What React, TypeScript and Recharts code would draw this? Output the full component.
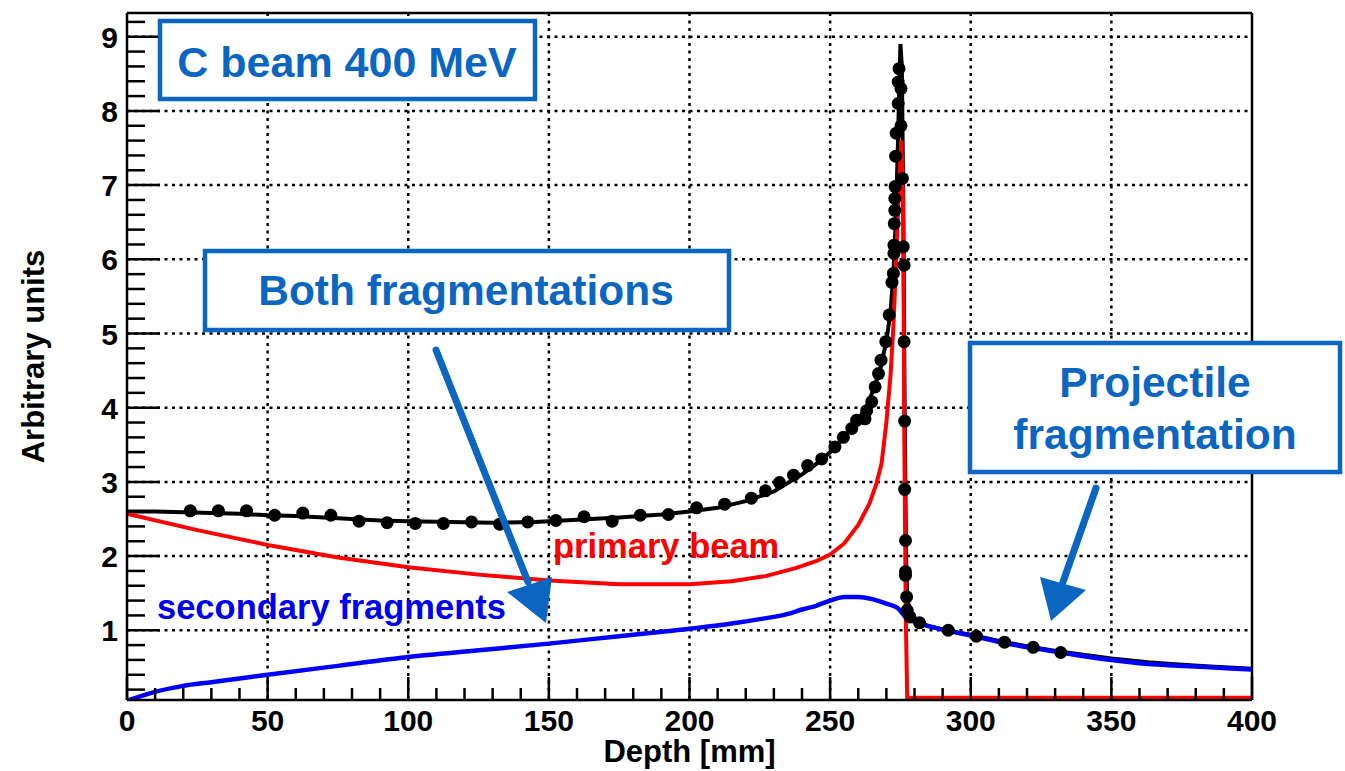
import { ComposedChart, Line, Scatter, XAxis, YAxis, CartesianGrid, ReferenceLine } from 'recharts'

// depth [mm], arbitrary units
const TOTAL_DOSE: [number, number][] = [
  [0, 2.6], [10, 2.6], [20, 2.59], [30, 2.58], [40, 2.57], [50, 2.55], [60, 2.54], [75, 2.51],
  [90, 2.48], [100, 2.47], [115, 2.46], [130, 2.45], [145, 2.46], [160, 2.49], [175, 2.52],
  [190, 2.56], [200, 2.6], [210, 2.65], [220, 2.74], [230, 2.87], [240, 3.1], [245, 3.24],
  [250, 3.4], [255, 3.6], [260, 3.84], [263, 4.02], [266, 4.3], [268, 4.55], [270, 4.9],
  [271.5, 5.3], [272.5, 5.8], [273.3, 6.5], [274, 7.4], [274.5, 8.2], [275, 8.9], [275.5, 8.6],
  [276, 6.8], [276.5, 4.0], [277, 2.0], [277.4, 1.45], [278.5, 1.2], [280, 1.12], [285, 1.06],
  [292, 0.99], [300, 0.94], [312, 0.84], [322, 0.77], [332, 0.71], [350, 0.62], [363, 0.57],
  [370, 0.55], [385, 0.51], [400, 0.48],
]

const PRIMARY: [number, number][] = [
  [0, 2.57], [25, 2.35], [50, 2.15], [75, 1.98], [100, 1.85], [125, 1.75], [150, 1.67],
  [175, 1.62], [200, 1.62], [215, 1.66], [227, 1.73], [238, 1.84], [245, 1.93], [250, 2.02],
  [255, 2.17], [260, 2.42], [264, 2.71], [266.5, 2.98], [268.3, 3.25], [270, 3.8], [271.5, 4.45],
  [272.5, 5.1], [273.6, 6.1], [274.5, 7.0], [275.3, 7.6], [275.7, 7.2], [276, 6.5], [276.4, 3.5],
  [276.9, 1.2], [277.4, 0.09], [300, 0.09], [400, 0.09],
]

const SECONDARY: [number, number][] = [
  [0, 0.05], [10, 0.17], [20, 0.25], [30, 0.3], [40, 0.35], [50, 0.4], [75, 0.52], [100, 0.64],
  [125, 0.73], [150, 0.82], [175, 0.92], [200, 1.02], [215, 1.09], [225, 1.15], [235, 1.22],
  [240, 1.28], [245, 1.33], [250, 1.4], [255, 1.45], [260, 1.45], [265, 1.42], [270, 1.36],
  [274, 1.3], [277, 1.17], [282, 1.09], [290, 1.01], [300, 0.93], [313, 0.82], [322, 0.76],
  [332, 0.7], [342, 0.64], [350, 0.6], [362, 0.55], [370, 0.53], [385, 0.5], [400, 0.47],
]

const MEASURED: [number, number][] = [
  [22.5, 2.61], [32.5, 2.61], [42.5, 2.61], [52.5, 2.55], [62.5, 2.58], [72.5, 2.55], [82.5, 2.47],
  [92.5, 2.45], [102.5, 2.44], [112.5, 2.44], [122.5, 2.46], [132.5, 2.43], [142.5, 2.46],
  [152.5, 2.48], [162.5, 2.53], [172.5, 2.47], [182.5, 2.55], [192.5, 2.56], [202.5, 2.65],
  [212.5, 2.7], [222, 2.78], [227, 2.88], [232, 2.99], [237, 3.09], [242, 3.22], [247, 3.31],
  [251.7, 3.47], [254.7, 3.6], [257.7, 3.72], [259.4, 3.83], [262.4, 3.85], [263, 3.96],
  [264.8, 4.08], [266, 4.28], [267.2, 4.46], [268.1, 4.64], [269.8, 4.89], [271, 5.25],
  [272, 5.69], [272.5, 5.81], [272.7, 6.08], [272.7, 6.19], [272.8, 6.48], [273, 6.66],
  [273, 6.82], [273.1, 6.98], [273.3, 7.39], [273.5, 7.7], [274.2, 8.1], [274.2, 8.39],
  [274.5, 8.57], [275.2, 8.3], [275.2, 7.8], [275.7, 7.09], [276, 6.17], [276.3, 5.92],
  [276.3, 4.89], [276.5, 3.82], [276.5, 2.9], [276.8, 2.21], [276.8, 1.79], [276.8, 1.74],
  [277.2, 1.45], [277.4, 1.27], [278.4, 1.18], [281.8, 1.1], [292, 1.0], [302, 0.92],
  [312, 0.84], [322.2, 0.77], [332, 0.7],
]

const X_MAJOR = [0, 50, 100, 150, 200, 250, 300, 350, 400]
const X_TICKS = Array.from({ length: 41 }, (_, i) => i * 10)
const Y_MAJOR = [1, 2, 3, 4, 5, 6, 7, 8, 9]
const Y_TICKS = Array.from({ length: 46 }, (_, i) => Math.round((i + 1) * 2) / 10)
const Y_MIN = 0.06
const Y_MAX = 9.32

const W = 1345
const H = 771
const LEFT = 127
const RIGHT = 1252
const TOP = 13
const BOTTOM = 700

const FONT = '"Liberation Sans", Arial, Helvetica, sans-serif'
const BOX_BLUE = '#0b66c1'

const toRows = (pts: [number, number][]) => pts.map(([d, v]) => ({ d, v }))

function XTick({ x, payload }: any) {
  const v = payload.value as number
  const major = v % 50 === 0
  return (
    <g>
      <line x1={x} x2={x} y1={BOTTOM} y2={BOTTOM - (major ? 23 : 12)} stroke="#000" strokeWidth={2.5} />
      {major && (
        <text x={x} y={731} textAnchor="middle" fontFamily={FONT} fontWeight="bold" fontSize={30} fill="#000">
          {v}
        </text>
      )}
    </g>
  )
}

function YTick({ y, payload }: any) {
  const v = payload.value as number
  const major = Math.abs(v - Math.round(v)) < 1e-6
  return (
    <g>
      <line x1={LEFT} x2={LEFT + (major ? 33 : 18)} y1={y} y2={y} stroke="#000" strokeWidth={2.5} />
      {major && (
        <text x={118} y={y + 11} textAnchor="end" fontFamily={FONT} fontWeight="bold" fontSize={30} fill="#000">
          {v}
        </text>
      )}
    </g>
  )
}

function Dot(p: any) {
  return <circle cx={p.cx} cy={p.cy} r={6.5} fill="#000" />
}

function Annotations() {
  const txt = { fontFamily: FONT, fontWeight: 'bold' as const }
  return (
    <svg width={W} height={H} style={{ position: 'absolute', left: 0, top: 0, pointerEvents: 'none' }}>
      <rect x={160} y={21} width={375} height={78} fill="#fff" stroke={BOX_BLUE} strokeWidth={4.5} />
      <text x={347} y={77} textAnchor="middle" fontSize={43} fill={BOX_BLUE} {...txt}>C beam 400 MeV</text>

      <rect x={205} y={251} width={524} height={79} fill="#fff" stroke={BOX_BLUE} strokeWidth={4.5} />
      <text x={466} y={305} textAnchor="middle" fontSize={42.5} fill={BOX_BLUE} {...txt}>Both fragmentations</text>

      <rect x={970} y={343} width={370} height={129} fill="#fff" stroke={BOX_BLUE} strokeWidth={4.5} />
      <text x={1155} y={397} textAnchor="middle" fontSize={42.5} fill={BOX_BLUE} {...txt}>Projectile</text>
      <text x={1155} y={449} textAnchor="middle" fontSize={42.5} fill={BOX_BLUE} {...txt}>fragmentation</text>

      <line x1={436} y1={350} x2={528} y2={582} stroke={BOX_BLUE} strokeWidth={7} strokeLinecap="round" />
      <polygon points="507,592 552,577 546,623" fill={BOX_BLUE} />
      <line x1={1096} y1={488} x2={1063} y2={582} stroke={BOX_BLUE} strokeWidth={7} strokeLinecap="round" />
      <polygon points="1040,577 1086,590 1051,621" fill={BOX_BLUE} />

      <text x={157} y={619} fontSize={34.5} fill="#0000f0" {...txt}>secondary fragments</text>
      <text x={553} y={558} fontSize={34.5} fill="#ff0000" {...txt}>primary beam</text>
    </svg>
  )
}

export default function App() {
  return (
    <div style={{ position: 'absolute', left: 0, top: 0, width: W, height: H, background: '#fff' }}>
      <ComposedChart width={W} height={H} margin={{ top: TOP, right: W - RIGHT, left: 0, bottom: 0 }}>
        <CartesianGrid
          stroke="#000"
          strokeWidth={2.5}
          strokeDasharray="3 4.5"
          horizontalValues={Y_MAJOR}
          verticalValues={X_MAJOR.slice(1, -1)}
        />
        <XAxis
          type="number"
          dataKey="d"
          domain={[0, 400]}
          ticks={X_TICKS}
          interval={0}
          height={H - BOTTOM}
          tick={<XTick />}
          tickLine={false}
          axisLine={{ stroke: '#000', strokeWidth: 2.5 }}
          label={{ value: 'Depth [mm]', position: 'insideBottom', offset: 9, style: { fontFamily: FONT, fontWeight: 'bold', fontSize: 31, fill: '#000' } }}
        />
        <YAxis
          type="number"
          dataKey="v"
          domain={[Y_MIN, Y_MAX]}
          allowDataOverflow
          ticks={Y_TICKS}
          interval={0}
          width={LEFT}
          tick={<YTick />}
          tickLine={false}
          axisLine={{ stroke: '#000', strokeWidth: 2.5 }}
          label={{ value: 'Arbitrary units', angle: -90, position: 'insideLeft', offset: 33, style: { fontFamily: FONT, fontWeight: 'bold', fontSize: 31, fill: '#000', textAnchor: 'middle' } }}
        />
        <ReferenceLine y={Y_MAX} stroke="#000" strokeWidth={2.5} ifOverflow="visible" />
        <ReferenceLine x={400} stroke="#000" strokeWidth={2.5} ifOverflow="visible" />
        <Line data={toRows(TOTAL_DOSE)} dataKey="v" type="linear" stroke="#000" strokeWidth={4} dot={false} isAnimationActive={false} />
        <Line data={toRows(SECONDARY)} dataKey="v" type="monotoneX" stroke="#0000ff" strokeWidth={4.5} dot={false} isAnimationActive={false} />
        <Line data={toRows(PRIMARY)} dataKey="v" type="linear" stroke="#ff0000" strokeWidth={4} dot={false} isAnimationActive={false} />
        <Scatter data={toRows(MEASURED)} dataKey="v" shape={<Dot />} isAnimationActive={false} />
      </ComposedChart>
      <Annotations />
    </div>
  )
}
